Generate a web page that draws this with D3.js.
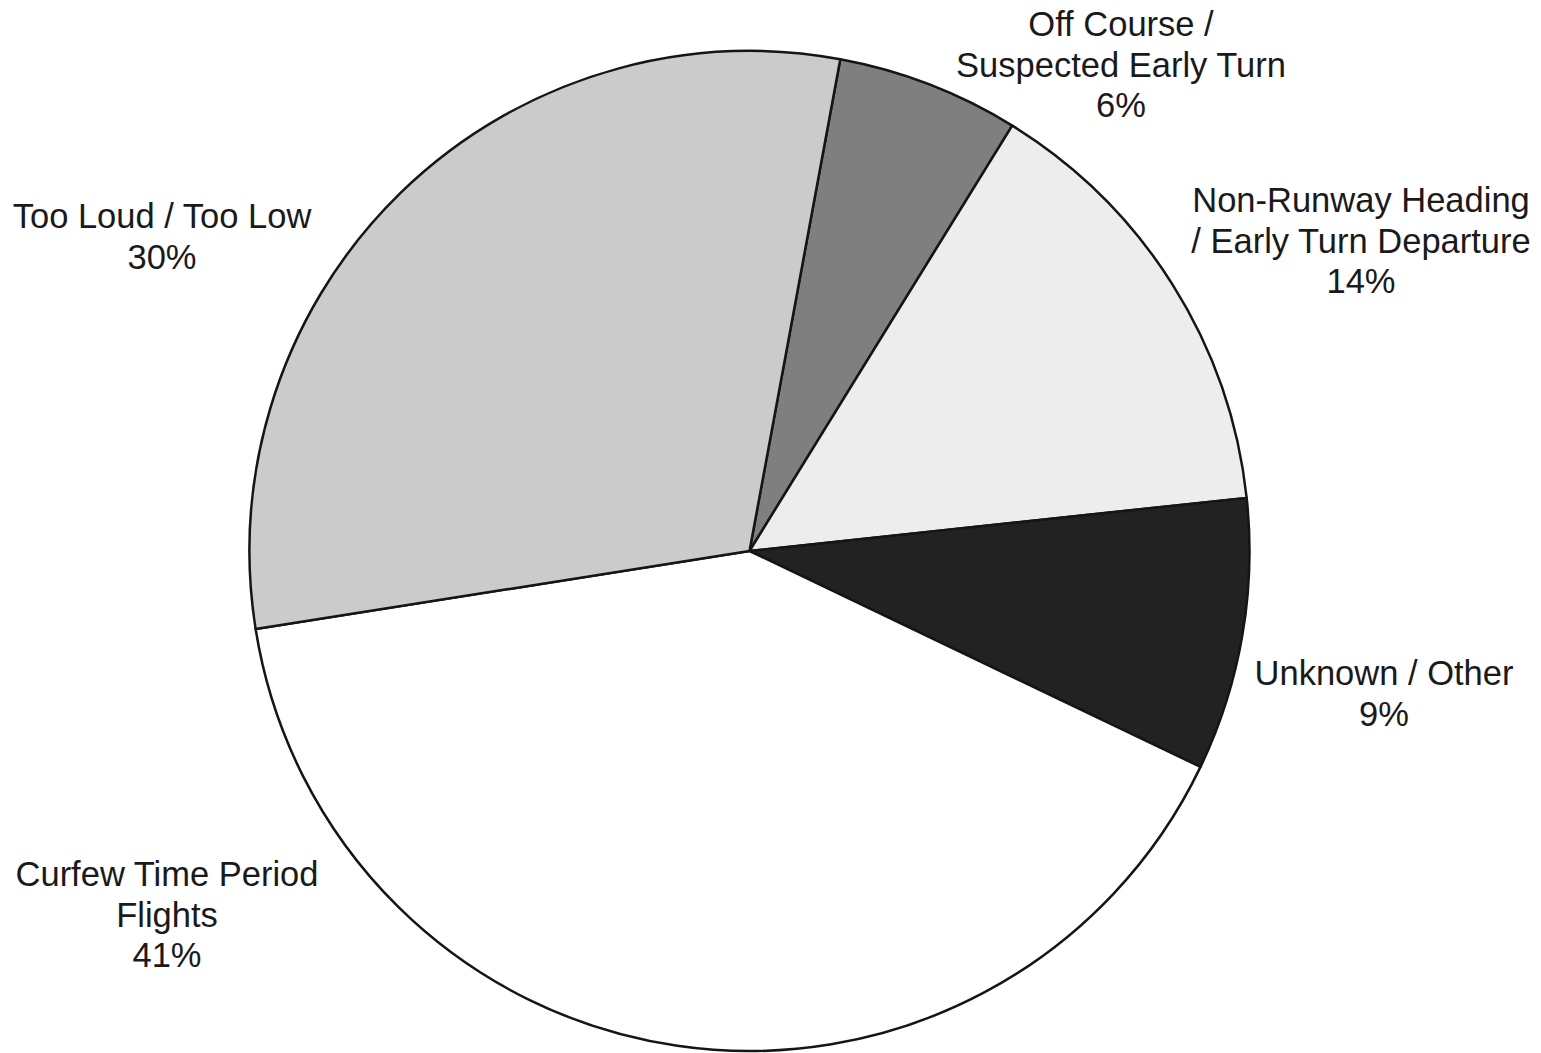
<!DOCTYPE html>
<html>
<head>
<meta charset="utf-8">
<script src="https://cdn.jsdelivr.net/npm/d3@7"></script>
<style>
  html, body { margin: 0; padding: 0; background: #ffffff; }
  svg { display: block; }
</style>
</head>
<body>
<svg id="chart" width="1541" height="1053"></svg>
<script>
// Data (clockwise from the top boundary)
const categories = [
  ["Off Course /", "Suspected Early Turn"],
  ["Non-Runway Heading", "/ Early Turn Departure"],
  ["Unknown / Other"],
  ["Curfew Time Period", "Flights"],
  ["Too Loud / Too Low"]
];
// slice shares
const values = [5.9, 14.5, 8.8, 40.4, 30.4];
// percentage labels as printed
const percentLabels = ["6%", "14%", "9%", "41%", "30%"];
const fills = ["#7f7f7f", "#ededed", "#222222", "#ffffff", "#cbcbcb"];

const W = 1541, H = 1053;
const cx = 749.5, cy = 551, R = 500;
const startDeg = 10.46;

// label anchor positions (centre x, first baseline y)
const labelPos = [
  [1121, 36],
  [1361, 212],
  [1384, 685],
  [167, 886],
  [162, 228]
];
const lineGap = 40.5;

const svg = d3.select("#chart");
const g = svg.append("g").attr("transform", `translate(${cx},${cy})`);

const start = startDeg * Math.PI / 180;
const pie = d3.pie().sort(null).value(d => d.v)
  .startAngle(start).endAngle(start + 2 * Math.PI);
const arc = d3.arc().innerRadius(0).outerRadius(R);

const data = values.map((v, i) => ({ v, i }));
g.selectAll("path.slice")
  .data(pie(data))
  .join("path")
  .attr("class", "slice")
  .attr("d", arc)
  .attr("fill", d => fills[d.data.i])
  .attr("stroke", "#151515")
  .attr("stroke-width", 2.5)
  .attr("stroke-linejoin", "round");

const labels = svg.append("g")
  .attr("font-family", "'Liberation Sans', Arial, Helvetica, sans-serif")
  .attr("font-size", 34.5)
  .attr("fill", "#1a1a1a")
  .attr("text-anchor", "middle");

categories.forEach((lines, i) => {
  const [x, y] = labelPos[i];
  const all = lines.concat([percentLabels[i]]);
  const t = labels.append("text").attr("x", x).attr("y", y);
  all.forEach((s, k) => {
    t.append("tspan").attr("x", x).attr("y", y + k * lineGap).text(s);
  });
});
</script>
</body>
</html>
